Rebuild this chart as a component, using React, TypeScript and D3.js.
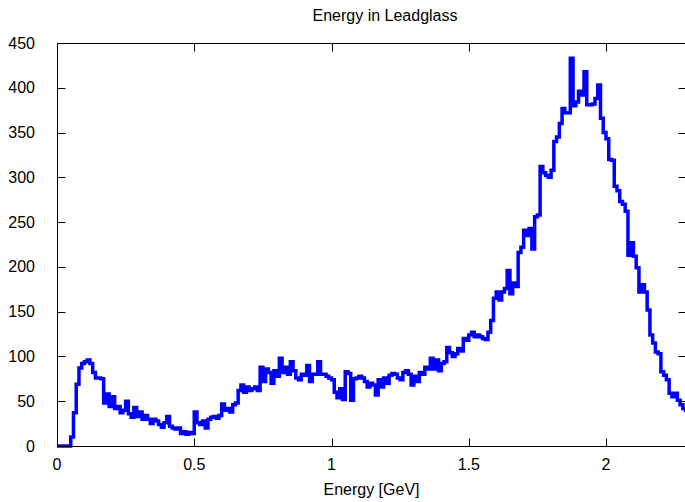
import React, { useRef, useEffect } from "react";
import * as d3 from "d3";

// histogram of leadglass energy, bins of 0.01 GeV starting at 0
const binWidth = 0.01;
const counts = [
  0, 0, 0, 0, 0, 10, 37, 69, 87, 92,
  94, 96, 92, 82, 76, 76, 75, 48, 58, 44,
  55, 42, 44, 37, 40, 50, 36, 32, 43, 33,
  38, 30, 34, 30, 25, 30, 28, 24, 21, 26,
  33, 22, 20, 19, 20, 14, 16, 13, 15, 14,
  38, 26, 24, 28, 20, 30, 32, 33, 31, 34,
  47, 40, 42, 38, 46, 48, 62, 68, 60, 66,
  62, 64, 66, 62, 88, 72, 86, 82, 70, 84,
  78, 98, 82, 88, 80, 94, 84, 76, 74, 80,
  79, 90, 72, 80, 80, 94, 80, 80, 78, 76,
  74, 60, 54, 64, 52, 83, 81, 51, 75, 76,
  78, 76, 72, 66, 70, 68, 57, 74, 66, 76,
  70, 79, 81, 80, 76, 74, 82, 84, 80, 68,
  78, 72, 82, 80, 88, 86, 98, 86, 96, 84,
  92, 94, 110, 104, 100, 103, 109, 106, 120, 118,
  124, 127, 122, 124, 122, 120, 119, 127, 140, 165,
  172, 163, 172, 176, 196, 170, 182, 178, 216, 222,
  241, 235, 243, 220, 256, 258, 312, 305, 302, 300,
  308, 340, 345, 360, 377, 372, 372, 433, 380, 384,
  396, 392, 418, 381, 381, 382, 388, 403, 366, 350,
  343, 320, 319, 290, 285, 273, 270, 262, 213, 227,
  212, 199, 172, 180, 172, 152, 124, 115, 105, 103,
  83, 79, 74, 59, 55, 59, 51, 46, 42, 40,
];
const xTicks = [0, 0.5, 1, 1.5, 2];
const yTicks = [0, 50, 100, 150, 200, 250, 300, 350, 400, 450];

function App() {
  const svgRef = useRef(null);

  useEffect(() => {
    d3.select(svgRef.current).selectAll("*").remove();
    const width = 685;
    const height = 502;
    const left = 57, right = 686, top = 43, bottom = 446;
    const font = "'Liberation Sans', Arial, sans-serif";

    const svg = d3.select(svgRef.current)
      .attr("width", width)
      .attr("height", height);

    // scales
    const x = d3.scaleLinear().domain([0, (right - left) / 274.5]).range([left, right]);
    const y = d3.scaleLinear().domain([0, 450]).range([bottom, top]);

    // histogram steps
    const pts = counts.map((c, i) => [i * binWidth, c]);
    pts.push([counts.length * binWidth, 0]);
    const line = d3.line()
      .x(d => x(d[0]))
      .y(d => y(d[1]))
      .curve(d3.curveStepAfter);

    svg.append("clipPath").attr("id", "plotclip")
      .append("rect")
      .attr("x", left - 3).attr("y", 0)
      .attr("width", right - left + 3).attr("height", height);

    svg.append("path")
      .datum(pts)
      .attr("clip-path", "url(#plotclip)")
      .attr("d", line)
      .attr("fill", "none")
      .attr("stroke", "#0000ff")
      .attr("stroke-width", 3.5)
      .attr("stroke-linejoin", "miter");

    // frame
    svg.append("rect")
      .attr("x", left + 0.5).attr("y", top + 0.5)
      .attr("width", right - left).attr("height", bottom - top)
      .attr("fill", "none").attr("stroke", "#000").attr("stroke-width", 1);

    // ticks, inward on all sides
    const tl = 8;
    xTicks.forEach(t => {
      const px = Math.round(x(t)) + 0.5;
      svg.append("line").attr("x1", px).attr("x2", px)
        .attr("y1", bottom + 0.5).attr("y2", bottom + 0.5 - tl)
        .attr("stroke", "#000");
      svg.append("line").attr("x1", px).attr("x2", px)
        .attr("y1", top + 0.5).attr("y2", top + 0.5 + tl)
        .attr("stroke", "#000");
      svg.append("text").attr("x", x(t)).attr("y", 470)
        .attr("text-anchor", "middle")
        .attr("font-family", font).attr("font-size", 16)
        .text(d3.format("")(t));
    });
    yTicks.forEach(t => {
      const py = Math.round(y(t)) + 0.5;
      svg.append("line").attr("x1", left + 0.5).attr("x2", left + 0.5 + tl)
        .attr("y1", py).attr("y2", py).attr("stroke", "#000");
      svg.append("line").attr("x1", right + 0.5).attr("x2", right + 0.5 - tl)
        .attr("y1", py).attr("y2", py).attr("stroke", "#000");
      svg.append("text").attr("x", 35).attr("y", y(t) + 5.5)
        .attr("text-anchor", "end")
        .attr("font-family", font).attr("font-size", 16)
        .text(t);
    });

    // titles
    svg.append("text").attr("x", 385).attr("y", 21)
      .attr("text-anchor", "middle")
      .attr("font-family", font).attr("font-size", 16)
      .text("Energy in Leadglass");
    svg.append("text").attr("x", (left + right) / 2).attr("y", 495)
      .attr("text-anchor", "middle")
      .attr("font-family", font).attr("font-size", 16)
      .text("Energy [GeV]");
  }, []);

  return (
    <div>
      <svg ref={svgRef} style={{ position: "absolute", left: 0, top: 0 }}></svg>
    </div>
  );
}

export default App;
